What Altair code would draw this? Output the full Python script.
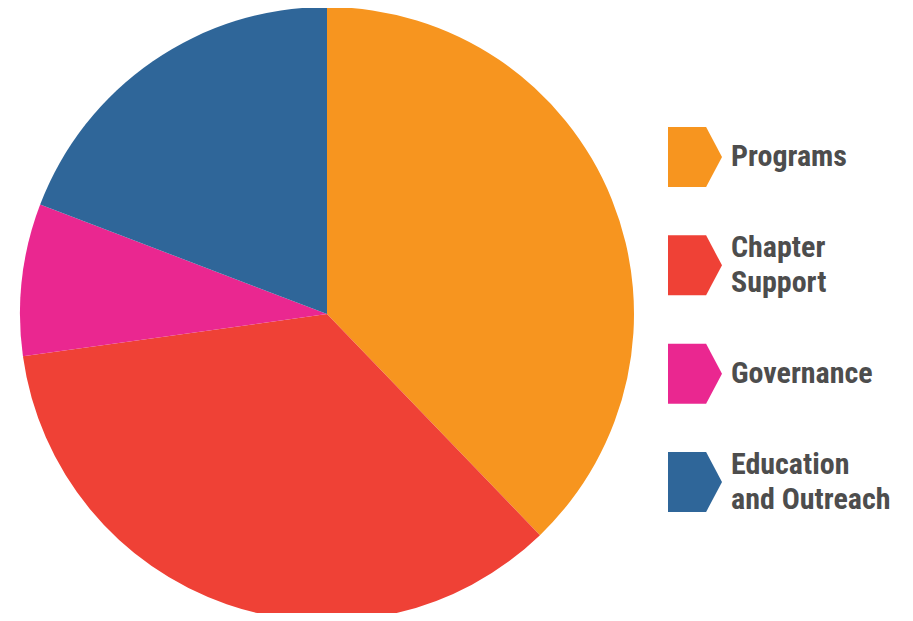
import altair as alt
import pandas as pd

categories = ["Programs", "Chapter Support", "Governance", "Education and Outreach"]
label_lines = ["Programs", "Chapter\nSupport", "Governance", "Education\nand Outreach"]
shares = [37.8, 35.0, 8.0, 19.2]
colors = ["#F7951F", "#EF4136", "#EA2790", "#2F6699"]

df = pd.DataFrame({
    "category": categories,
    "label": label_lines,
    "share": shares,
    "order": list(range(len(categories))),
})

marker = "M-0.9,-1L0.37,-1L0.9,0L0.37,1L-0.9,1Z"
label_font = "Liberation Sans Narrow, Roboto Condensed, Roboto, sans-serif"
line_h = 35

color = alt.Color(
    "category:N",
    scale=alt.Scale(domain=categories, range=colors),
    legend=None,
)
ypos = alt.Y(
    "category:N",
    scale=alt.Scale(type="point", domain=categories, range=[149, 474], padding=0),
    axis=None,
)

base = alt.Chart(df)

pie = base.mark_arc(outerRadius=307).encode(
    x=alt.value(319),
    y=alt.value(306),
    theta=alt.Theta("share:Q", stack=True),
    order=alt.Order("order:Q"),
    color=color,
)

markers = base.mark_point(
    shape=marker, size=3600, filled=True, opacity=1, strokeWidth=0
).encode(
    x=alt.value(687),
    y=ypos,
    color=color,
)

text_style = dict(
    align="left",
    baseline="middle",
    lineBreak="\n",
    lineHeight=line_h,
    font=label_font,
    fontSize=30,
    fontWeight="bold",
    color="#4d4d4d",
)

labels_single = base.transform_filter(
    "indexof(datum.label, '\\n') < 0"
).mark_text(**text_style).encode(
    x=alt.value(723),
    y=ypos,
    text="label:N",
)

labels_double = base.transform_filter(
    "indexof(datum.label, '\\n') >= 0"
).mark_text(dy=-line_h / 2, **text_style).encode(
    x=alt.value(723),
    y=ypos,
    text="label:N",
)

chart = alt.layer(pie, markers, labels_single, labels_double).properties(
    width=890, height=605, padding=0, autosize="none"
).configure_view(stroke=None)

chart.save("out.html", embed_options={"renderer": "svg", "actions": False})
